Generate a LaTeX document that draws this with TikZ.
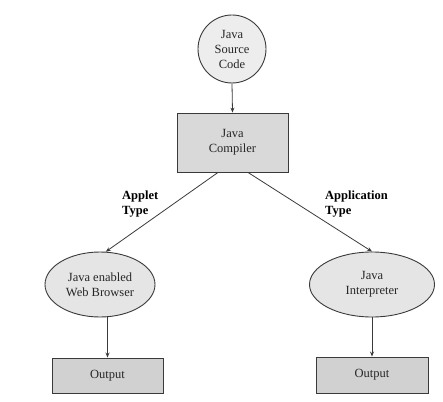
\documentclass[tikz,border=0pt]{standalone}
\usepackage{fontspec}
\setmainfont{Liberation Serif}
\usetikzlibrary{shapes.geometric,arrows.meta}
\definecolor{ln}{HTML}{3A3A3A}
\begin{document}
\begin{tikzpicture}[x=1pt,y=-1pt,
  every node/.style={font=\fontsize{12.5}{15}\selectfont, text=black!85, align=center, inner sep=0pt},
  shp/.style={draw=ln, line width=0.9pt},
  conn/.style={draw=ln, line width=0.8pt, -{Stealth[length=5pt,width=4pt]}},
  lbl/.style={font=\fontsize{12.5}{15}\selectfont\bfseries, align=left, text=black}]
\useasboundingbox (0,0) rectangle (443,401);
\node[shp, circle, fill=black!7, minimum size=68pt] (src) at (232,49) {Java\\Source\\Code};
\node[shp, rectangle, fill=black!15, minimum width=111pt, minimum height=59pt] (comp) at (232.5,142.5) {Java\\Compiler};
\node[shp, ellipse, fill=black!10, minimum width=110pt, minimum height=65pt] (webb) at (100,284.5) {Java enabled\\Web Browser};
\node[shp, ellipse, fill=black!10, minimum width=125pt, minimum height=65pt] (interp) at (372,284.5) {Java\\Interpreter};
\node[shp, rectangle, fill=black!18, minimum width=111pt, minimum height=35pt] (out1) at (107.5,375.5) {Output};
\node[shp, rectangle, fill=black!18, minimum width=112pt, minimum height=36pt] (out2) at (372,375) {Output};
\node[lbl, anchor=north west] (la) at (122,191) {Applet\\Type};
\node[lbl, anchor=north west] (lb) at (325,191) {Application\\Type};
\draw[conn] (src.south) -- (comp.north);
\draw[conn] ([xshift=-14.5pt]comp.south) -- (webb.80);
\draw[conn] ([xshift=15.5pt]comp.south) -- (interp.north);
\draw[conn] (out1.north |- webb.south) -- (out1.north);
\draw[conn] (interp.south) -- (out2.north);
\end{tikzpicture}
\end{document}
